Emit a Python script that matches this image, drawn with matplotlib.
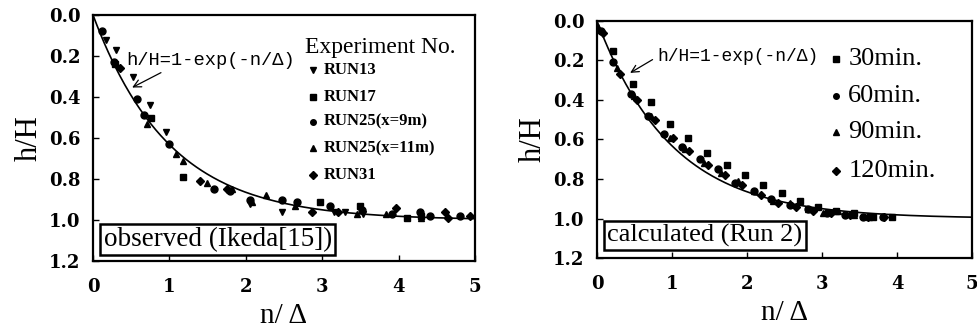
import numpy as np
import matplotlib
matplotlib.use("Agg")
import matplotlib.pyplot as plt

# ---------------- data: observed (left) ----------------
run13_x = [0.17, 0.30, 0.52, 0.75, 0.95, 2.05, 2.48, 3.15, 3.30, 3.54]
run13_y = [0.12, 0.17, 0.30, 0.44, 0.57, 0.92, 0.96, 0.96, 0.96, 0.97]
run17_x = [0.29, 0.76, 1.18, 2.97, 3.50, 4.11, 4.29]
run17_y = [0.24, 0.50, 0.79, 0.91, 0.93, 0.99, 0.98]
run25a_x = [0.12, 0.27, 0.57, 0.67, 0.99, 1.58, 1.79, 2.05, 2.48, 2.67, 3.10, 3.52, 3.91, 4.28, 4.41, 4.80]
run25a_y = [0.08, 0.23, 0.41, 0.49, 0.63, 0.85, 0.86, 0.90, 0.90, 0.91, 0.93, 0.95, 0.97, 0.96, 0.98, 0.98]
run25b_x = [0.71, 1.09, 1.18, 1.49, 1.82, 2.08, 2.26, 2.64, 3.45, 3.84, 4.29]
run25b_y = [0.53, 0.68, 0.71, 0.82, 0.85, 0.91, 0.88, 0.93, 0.97, 0.97, 0.99]
run31_x = [0.35, 1.40, 1.75, 2.86, 3.21, 3.97, 4.61, 4.65, 4.93]
run31_y = [0.26, 0.81, 0.85, 0.96, 0.96, 0.94, 0.96, 0.99, 0.98]

# ---------------- data: calculated (right) ----------------
m30_x = [0.22, 0.48, 0.72, 0.97, 1.22, 1.47, 1.73, 1.97, 2.22, 2.46, 2.70, 2.94, 3.19, 3.43, 3.68, 3.93]
m30_y = [0.15, 0.32, 0.41, 0.52, 0.59, 0.67, 0.73, 0.78, 0.83, 0.87, 0.91, 0.94, 0.96, 0.97, 0.99, 0.99]
m60_x = [0.05, 0.21, 0.45, 0.68, 0.90, 1.13, 1.37, 1.61, 1.84, 2.10, 2.32, 2.57, 2.81, 3.06, 3.30, 3.55, 3.81]
m60_y = [0.05, 0.21, 0.37, 0.48, 0.57, 0.64, 0.70, 0.75, 0.82, 0.86, 0.90, 0.93, 0.95, 0.97, 0.98, 0.99, 0.99]
m90_x = [0.02, 0.27, 0.50, 0.72, 0.97, 1.17, 1.43, 1.65, 1.88, 2.10, 2.34, 2.57, 2.81, 3.01, 3.21, 3.43, 3.63]
m90_y = [0.03, 0.24, 0.38, 0.48, 0.59, 0.65, 0.72, 0.77, 0.81, 0.86, 0.91, 0.92, 0.95, 0.97, 0.96, 0.98, 0.99]
m120_x = [0.08, 0.31, 0.54, 0.77, 1.01, 1.23, 1.48, 1.71, 1.94, 2.19, 2.41, 2.65, 2.88, 3.12, 3.37, 3.61, 3.83]
m120_y = [0.06, 0.27, 0.40, 0.50, 0.59, 0.66, 0.73, 0.78, 0.83, 0.88, 0.92, 0.94, 0.96, 0.97, 0.98, 0.99, 0.99]

x_ticks = [0, 1, 2, 3, 4, 5]
y_ticks = [0.0, 0.2, 0.4, 0.6, 0.8, 1.0, 1.2]

SERIF = "Liberation Serif"
TICKF = "DejaVu Serif"
MONO = "Liberation Mono"

fig = plt.figure(figsize=(9.78, 3.33), dpi=100)
axL = fig.add_axes([0.0951, 0.216, 0.3906, 0.739])
axR = fig.add_axes([0.6104, 0.2252, 0.3835, 0.7118])

curve_x = np.linspace(0, 5, 300)
curve_y = 1 - np.exp(-curve_x)


def style(ax):
    ax.set_xlim(0, 5)
    ax.set_ylim(1.2, 0.0)
    ax.set_xticks(x_ticks)
    ax.set_yticks(y_ticks)
    ax.set_xticklabels([str(t) for t in x_ticks], fontfamily=TICKF, fontweight="bold", fontsize=13)
    ax.set_yticklabels([f"{t:.1f}" for t in y_ticks], fontfamily=TICKF, fontweight="bold", fontsize=13)
    ax.tick_params(axis="x", direction="in", length=4, width=1, pad=12)
    ax.tick_params(axis="y", direction="in", length=4, width=1, pad=9)
    for s in ax.spines.values():
        s.set_linewidth(1.6)
    ax.set_xlabel("n/ Δ", fontfamily=SERIF, fontsize=21, labelpad=5)
    ax.set_ylabel("h/H", fontfamily=SERIF, fontsize=22, labelpad=4)
    ax.plot(curve_x, curve_y, color="black", lw=1.2, zorder=2)


ms = 5
# Left panel
style(axL)
axL.plot(run13_x, run13_y, "v", color="black", ms=ms, ls="none")
axL.plot(run17_x, run17_y, "s", color="black", ms=ms, ls="none")
axL.plot(run25a_x, run25a_y, "o", color="black", ms=ms, ls="none")
axL.plot(run25b_x, run25b_y, "^", color="black", ms=ms, ls="none")
axL.plot(run31_x, run31_y, "D", color="black", ms=ms - 1, ls="none")

axL.text(2.78, 0.16, "Experiment No.", fontfamily=SERIF, fontsize=17, va="center", ha="left")
leg_items = [("v", "RUN13", 0.27), ("s", "RUN17", 0.40), ("o", "RUN25(x=9m)", 0.52),
             ("^", "RUN25(x=11m)", 0.65), ("D", "RUN31", 0.78)]
for mk, lab, yy in leg_items:
    axL.plot([2.88], [yy], mk, color="black", ms=ms - 1, ls="none")
    axL.text(3.02, yy, lab, fontfamily=SERIF, fontweight="bold", fontsize=12, va="center", ha="left")

axL.annotate("h/H=1-exp(-n/Δ)", xy=(0.48, 0.36), xytext=(0.44, 0.22),
             fontfamily=MONO, fontsize=13.5, va="center", ha="left",
             arrowprops=dict(arrowstyle="->", color="black", lw=0.9,
                             relpos=(0.25, 0.0)))
axL.text(0.14, 1.095, "observed (Ikeda[15])", fontfamily=SERIF, fontsize=19.5,
         va="center", ha="left",
         bbox=dict(boxstyle="square,pad=0.12", fc="white", ec="black", lw=1.8))

# Right panel
style(axR)
axR.plot(m30_x, m30_y, "s", color="black", ms=ms, ls="none")
axR.plot(m60_x, m60_y, "o", color="black", ms=ms, ls="none")
axR.plot(m90_x, m90_y, "^", color="black", ms=ms, ls="none")
axR.plot(m120_x, m120_y, "D", color="black", ms=ms - 1, ls="none")

r_items = [("s", "30min.", 0.19), ("o", "60min.", 0.38), ("^", "90min.", 0.56), ("D", "120min.", 0.76)]
for mk, lab, yy in r_items:
    axR.plot([3.18], [yy], mk, color="black", ms=ms - 1, ls="none")
    axR.text(3.35, yy, lab, fontfamily=SERIF, fontsize=19, va="center", ha="left")

axR.annotate("h/H=1-exp(-n/Δ)", xy=(0.41, 0.27), xytext=(0.81, 0.18),
             fontfamily=MONO, fontsize=13, va="center", ha="left",
             arrowprops=dict(arrowstyle="->", color="black", lw=0.9,
                             relpos=(0.0, 0.5)))
axR.text(0.14, 1.085, "calculated (Run 2)", fontfamily=SERIF, fontsize=19,
         va="center", ha="left",
         bbox=dict(boxstyle="square,pad=0.12", fc="white", ec="black", lw=1.8))

fig.savefig("out.png", dpi=100)
